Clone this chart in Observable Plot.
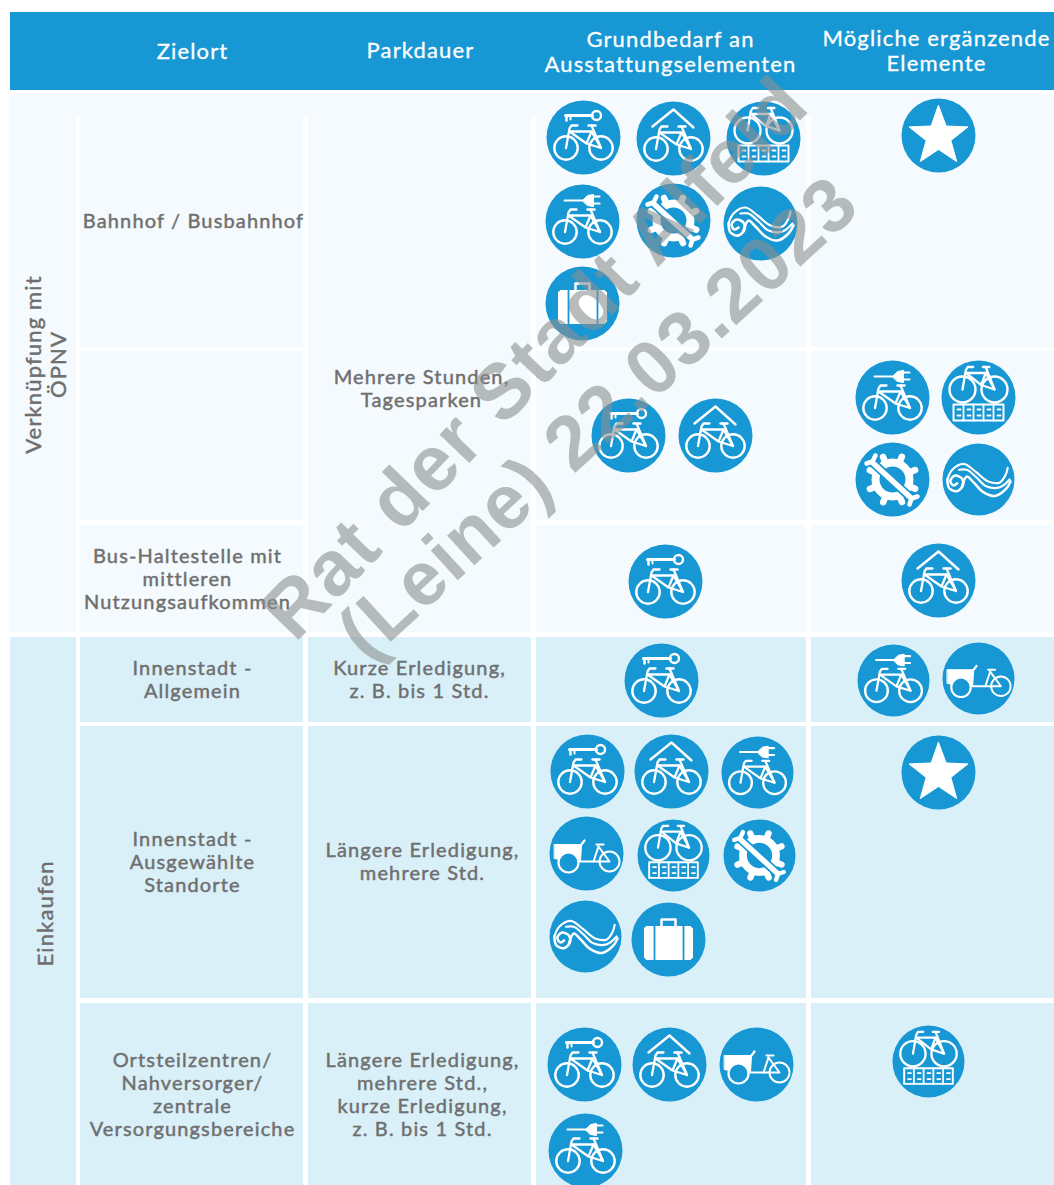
<!DOCTYPE html>
<html lang="de">
<head>
<meta charset="utf-8">
<title>Ausstattungselemente</title>
<script src="https://cdn.jsdelivr.net/npm/d3@7"></script>
<script src="https://cdn.jsdelivr.net/npm/@observablehq/plot@0.6"></script>
<style>
html,body{margin:0;padding:0;background:#fff}
svg{display:block}
</style>
</head>
<body>
<div id="chart"></div>
<script>
// ---- content ----
const headers = ["Zielort", "Parkdauer", "Grundbedarf an\nAusstattungselementen", "Mögliche ergänzende\nElemente"];
const groups = ["Verknüpfung mit\nÖPNV", "Einkaufen"];
const destinations = ["Bahnhof / Busbahnhof", "Bus-Haltestelle mit\nmittleren\nNutzungsaufkommen", "Innenstadt -\nAllgemein", "Innenstadt -\nAusgewählte\nStandorte", "Ortsteilzentren/\nNahversorger/\nzentrale\nVersorgungsbereiche"];
const durations = ["Mehrere Stunden,\nTagesparken", "Kurze Erledigung,\nz. B. bis 1 Std.", "Längere Erledigung,\nmehrere Std.", "Längere Erledigung,\nmehrere Std.,\nkurze Erledigung,\nz. B. bis 1 Std."];
const watermarkLine1 = ["Rat der Stadt Alfeld"];
const watermarkLine2 = ["(Leine) 22.03.2023"];
const requiredIcons = [
  ["key","roof","rack","plug","tool","wave","case"],
  ["key","roof"],
  ["key"],
  ["key"],
  ["key","roof","plug","cargo","rack","tool","wave","case"],
  ["key","roof","cargo","plug"]
];
const optionalIcons = [
  ["star"],
  ["plug","rack","tool","wave"],
  ["roof"],
  ["plug","cargo"],
  ["star"],
  ["rack"]
];

// ---- layout ----
const BLUE = "#1797d4", PALE = "#f4fafd", LIGHT = "#d9f0f9", GREY = "#6f6f6f";
const W = 1054, H = 1185;
const requiredAt = [
  [[583,137,37],[673,138,37],[763,138,37],[582,221,37],[673,220,37],[760,223,37],[582,303,37]],
  [[628,435,37],[715,435,37]],
  [[665,581,37]],
  [[661,680,37]],
  [[587,771,37],[671,771,37],[757,772,36],[586,853,37],[673,855,36],[759,855,36],[585,936,36],[668,939,37]],
  [[584,1064,37],[669,1064,37],[756,1064,37],[585,1150,37]]
];
const optionalAt = [
  [[938,135,37]],
  [[892,397,37],[978,397,37],[892,479,37],[978,479,36]],
  [[938,580,37]],
  [[893,680,36],[978,678,36]],
  [[938,772,37]],
  [[928,1061,36]]
];
const headerAt = [[192,51],[420,50],[670,51],[936,50]];
const groupAt = [[45,364],[45,913]];
const destAt = [[193,220],[187,578],[192,679],[192,861],[192,1094]];
const durAt = [[421,388],[419,679],[422,861],[422,1094]];
const panels = [
  {x1:10,x2:W,y1:12,y2:90,c:BLUE},
  {x1:10,x2:W,y1:95,y2:632,c:PALE},
  {x1:10,x2:W,y1:637,y2:H,c:LIGHT}
];
const separators = [
  {x1:76,x2:80,y1:117,y2:637},{x1:303,x2:308,y1:117,y2:637},{x1:531,x2:536,y1:117,y2:637},{x1:806,x2:811,y1:117,y2:637},
  {x1:76,x2:80,y1:637,y2:H},{x1:303,x2:308,y1:637,y2:H},{x1:531,x2:536,y1:637,y2:H},{x1:806,x2:811,y1:637,y2:H},
  {x1:80,x2:303,y1:347,y2:351},{x1:536,x2:W,y1:347,y2:351},
  {x1:80,x2:303,y1:520,y2:525},{x1:536,x2:W,y1:520,y2:525},
  {x1:80,x2:W,y1:722,y2:726},{x1:80,x2:W,y1:998,y2:1003}
];

// ---- icon drawing parts, in units of a circle with radius 37 ----
function bike(dy = 0, sx = 1, hub = 17.5, wheel = 11.7) {
  const y = dy, X = v => v * sx;
  return {
    rings: [[-hub,10.5+y,wheel,2.4],[hub,10.5+y,wheel,2.4]],
    lines: [
      [[[X(-6),-12+y],[X(-12),-12+y],[X(-14),-9+y],[-hub,10.5+y]],2.3],
      [[[X(-14),-6+y],[X(3),6+y],[hub,10.5+y],[X(8),-6+y],[X(3),6+y]],2.3],
      [[[X(-14),-6+y],[X(8),-6+y]],2.3],
      [[[X(5),-12+y],[X(12),-12+y]],2.4],
      [[[X(8),-12+y],[hub,10.5+y]],2.3]
    ]
  };
}
function merge(...parts) {
  const out = {rings:[],holes:[],fills:[],lines:[],halo:[],over:[],waves:[]};
  for (const p of parts) for (const k in p) out[k].push(...p[k]);
  return out;
}
const teeth = d3.range(8).map(i => {
  const a = i / 8 * 2 * Math.PI + 0.39;
  return [[[20*Math.cos(a),20*Math.sin(a)],[24.5*Math.cos(a),24.5*Math.sin(a)]],6.5];
});
const glyphs = {
  key: merge(bike(0), {
    rings: [[13,-22,4.5,2.4]],
    lines: [[[[-18,-22],[9,-22]],3],[[[-17,-21],[-17,-17]],2.5],[[[-13,-21],[-13,-18]],2]]
  }),
  roof: merge(bike(0), {
    lines: [[[[-21,-12],[0,-29],[20,-11]],2.4]]
  }),
  plug: merge(bike(0), {
    fills: [[[0,-21],[5,-26],[11,-27],[11,-15],[5,-16]]],
    lines: [[[[-18,-21],[0,-21]],2],[[[11,-25],[17,-25]],2.2],[[[11,-18],[17,-18]],2.2]]
  }),
  rack: merge(bike(-18.5, 0.9, 16, 13), {
    lines: [
      [[[-25,7],[25,7],[25,23],[-25,23],[-25,7]],2],
      ...[-15,-5,5,15].map(x => [[[x,7],[x,23]],1.8]),
      ...[-21,-11,-1,9,19].map(x => [[[x,12],[x+3,12]],1.8]),
      ...[-21,-11,-1,9,19].map(x => [[[x,18],[x+3,18]],1.8])
    ]
  }),
  cargo: {
    rings: [[23,8,10,2]], holes: [[-18,9,10,2.2]],
    fills: [[[-32,-9],[-5,-9],[-6,8],[-18,8],[-32,5]]],
    lines: [
      [[[-8,8],[23,8],[12,-7]],2],[[[7,8],[12,-7]],2],[[[10,-9],[17,-9]],2.2],
      [[[-5,-9],[-2,-13]],2.2]
    ]
  },
  star: {
    fills: [d3.range(10).map(i => {
      const a = -Math.PI/2 + i*Math.PI/5, r = i%2 ? 13 : 31;
      return [r*Math.cos(a), r*Math.sin(a)+1];
    })]
  },
  case: {
    fills: [[[-22,-13],[22,-13],[24,-11],[24,18],[22,20],[-22,20],[-24,18],[-24,-11]]],
    lines: [[[[-7,-13],[-7,-20],[7,-20],[7,-13]],2.5]],
    halo: [[[[-14,-13],[-14,20]],1.8],[[[15,-13],[15,20]],1.8]]
  },
  tool: {
    rings: [[0,0,17,8]],
    lines: teeth,
    halo: [[[[-20,-17],[19,19]],9]],
    over: [
      [[[-19,-16],[18,18]],5.5],
      [[[-20,-18],[-26,-16]],4.5],[[[-20,-18],[-17,-24]],4.5],
      [[[19,19],[25,17]],4.5],[[[19,19],[17,25]],4.5]
    ]
  },
  wave: {
    waves: [
      [[[-32,0],[-27,-10],[-15,-16],[-3,-8],[10,2],[22,3],[28,-5],[30,-12]],2.2],
      [[[-20,-10],[-12,-10],[-2,-2],[8,7],[22,8],[32,0]],2.2],
      [[[-17,7],[-12,-3],[-5,3],[5,13],[17,17],[28,10],[33,2]],2.6],
      [[[-32,0],[-30,9],[-22,12],[-16,6],[-17,-1],[-24,-4],[-29,1],[-26,6],[-22,4]],2.6]
    ]
  }
};

// ---- expand the icon lists into records for the marks ----
const discs = [], rings = [], holes = [], fills = [], lines = [], halo = [], over = [], waves = [];
let serial = 0;
function addPath(target, pts, sw, cx, cy, k) {
  const z = serial++;
  for (const [x,y] of pts) target.push({x: cx + x*k, y: cy + y*k, z, sw: sw*k});
}
function place(name, [cx, cy, r]) {
  const g = glyphs[name], k = r / 37;
  discs.push({x: cx, y: cy, r});
  for (const [x,y,rr,sw] of g.rings || []) rings.push({x: cx+x*k, y: cy+y*k, r: rr*k, sw: sw*k});
  for (const [x,y,rr,sw] of g.holes || []) holes.push({x: cx+x*k, y: cy+y*k, r: rr*k, sw: sw*k});
  for (const pts of g.fills || []) addPath(fills, pts, 1, cx, cy, k);
  for (const [pts,sw] of g.lines || []) addPath(lines, pts, sw, cx, cy, k);
  for (const [pts,sw] of g.halo || []) addPath(halo, pts, sw, cx, cy, k);
  for (const [pts,sw] of g.over || []) addPath(over, pts, sw, cx, cy, k);
  for (const [pts,sw] of g.waves || []) addPath(waves, pts, sw, cx, cy, k);
}
requiredIcons.forEach((row,i) => row.forEach((n,j) => place(n, requiredAt[i][j])));
optionalIcons.forEach((row,i) => row.forEach((n,j) => place(n, optionalAt[i][j])));

const table = (labels, at) => labels.map((text,i) => ({text, x: at[i][0], y: at[i][1]}));
const FONT = "Lato, sans-serif";
const common = {x:"x", y:"y", text:"text", fontFamily:FONT, fontWeight:400};
const greyText = {...common, fill:GREY, stroke:GREY, strokeWidth:0.45, fontSize:20, lineHeight:1.15};
const wm = {x:"x", y:"y", text:"text", fill:"#8a8f8f", fillOpacity:0.6,
  fontFamily:"'Liberation Sans', Arial, sans-serif", fontWeight:700};

const chart = Plot.plot({
  width: W, height: H, margin: 0,
  x: {domain:[0,W], range:[0,W], axis:null},
  y: {domain:[0,H], range:[0,H], axis:null},
  r: {type:"identity"},
  style: {background:"#fff", letterSpacing:"1.15px"},
  marks: [
    Plot.rect(panels, {x1:"x1",x2:"x2",y1:"y1",y2:"y2",fill:"c"}),
    Plot.rect(separators, {x1:"x1",x2:"x2",y1:"y1",y2:"y2",fill:"#fff"}),
    Plot.dot(discs, {x:"x",y:"y",r:"r",fill:BLUE,stroke:"none"}),
    Plot.line(fills, {x:"x",y:"y",z:"z",fill:"#fff",stroke:"#fff",strokeWidth:1,curve:"linear-closed"}),
    Plot.dot(rings, {x:"x",y:"y",r:"r",fill:"none",stroke:"#fff",strokeWidth:"sw"}),
    Plot.dot(holes, {x:"x",y:"y",r:"r",fill:BLUE,stroke:"#fff",strokeWidth:"sw"}),
    Plot.line(lines, {x:"x",y:"y",z:"z",stroke:"#fff",strokeWidth:"sw",strokeLinecap:"round",strokeLinejoin:"round"}),
    Plot.line(halo, {x:"x",y:"y",z:"z",stroke:BLUE,strokeWidth:"sw"}),
    Plot.line(over, {x:"x",y:"y",z:"z",stroke:"#fff",strokeWidth:"sw",strokeLinecap:"round"}),
    Plot.line(waves, {x:"x",y:"y",z:"z",stroke:"#fff",strokeWidth:"sw",curve:"catmull-rom",strokeLinecap:"round"}),
    Plot.text(table(headers, headerAt), {...common, fill:"#fff", stroke:"#fff", strokeWidth:0.3, fontSize:22, lineHeight:1.12}),
    Plot.text(table(groups, groupAt), {...greyText, fontSize:22, rotate:-90, lineHeight:1.13}),
    Plot.text(table(destinations, destAt), greyText),
    Plot.text(table(durations, durAt), greyText),
    Plot.text(table(watermarkLine1, [[535,358]]), {...wm, fontSize:78, rotate:-46}),
    Plot.text(table(watermarkLine2, [[598,418]]), {...wm, fontSize:76, rotate:-42.5})
  ]
});
document.getElementById("chart").append(chart);
</script>
</body>
</html>
